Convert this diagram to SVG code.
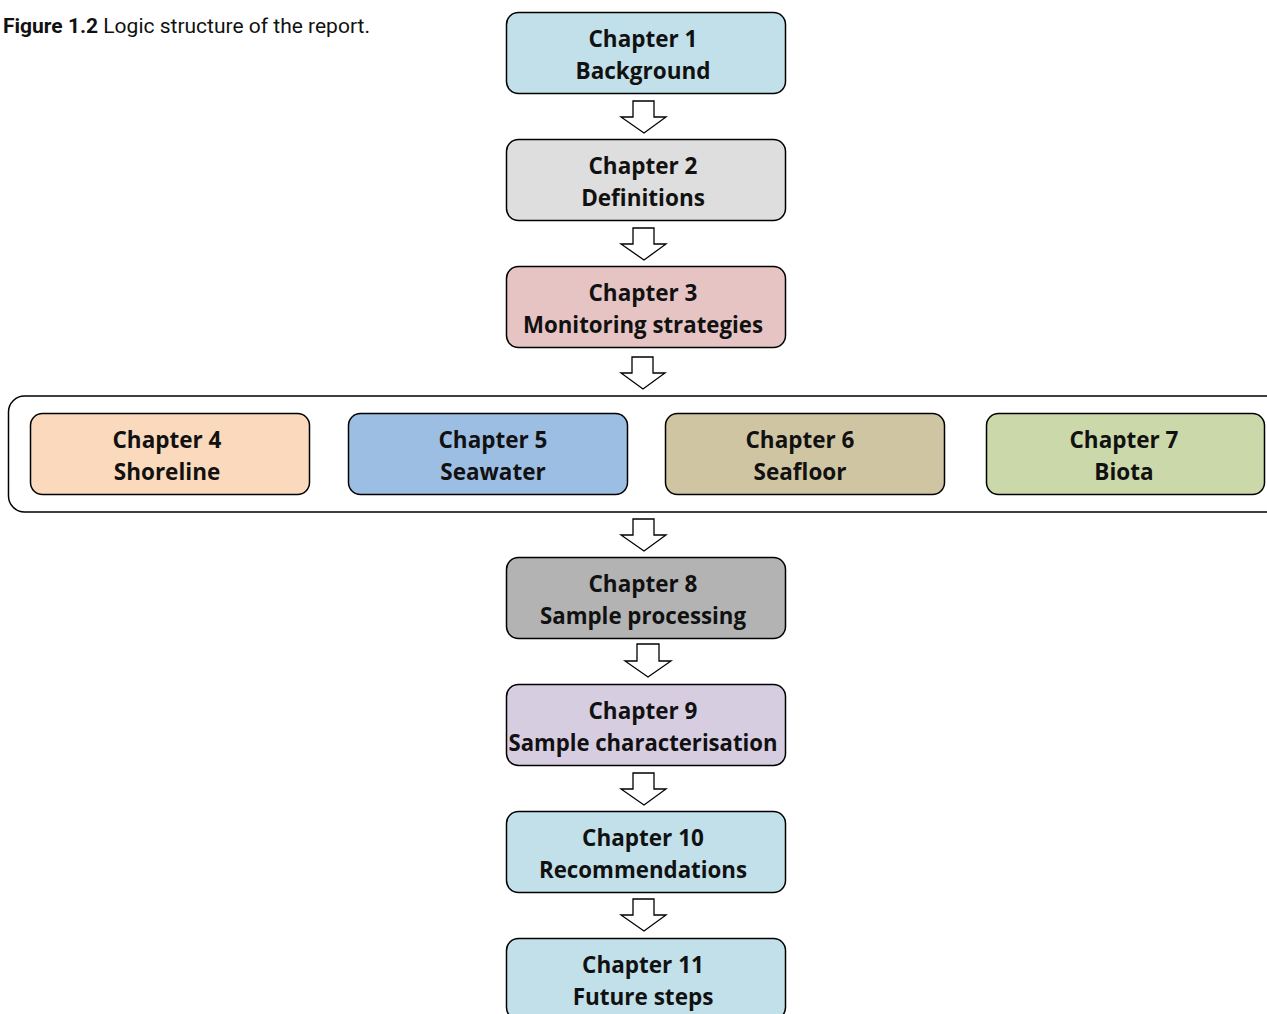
<svg xmlns="http://www.w3.org/2000/svg" width="1267" height="1014" viewBox="0 0 1267 1014">
<style>
.box{stroke:#000;stroke-width:1.5}
.t{font-family:"Open Sans","Noto Sans",sans-serif;font-weight:700;font-size:22.5px;text-anchor:middle;fill:#111}
.arr{fill:#fff;stroke:#000;stroke-width:1.3;stroke-linejoin:miter}
.cap{font-family:Roboto,"Liberation Sans",sans-serif;font-size:21px;fill:#111}
</style>
<rect width="1267" height="1014" fill="#fff"/>
<text class="cap" x="3" y="33"><tspan font-weight="700">Figure 1.2</tspan> Logic structure of the report.</text>
<g id="container"><rect x="8.5" y="396" width="1280" height="116" rx="16" fill="#fff" stroke="#000" stroke-width="1.5"/></g>
<g id="connectors">
<path class="arr" d="M633,101 H654 V117 H666 L644,133 L621,117 H633 Z"/>
<path class="arr" d="M633,228 H654 V244 H666 L644,260 L621,244 H633 Z"/>
<path class="arr" d="M632,357 H653 V373 H665 L643,389 L621,373 H632 Z"/>
<path class="arr" d="M633,519 H654 V535 H666 L644,551 L621,535 H633 Z"/>
<path class="arr" d="M637,644 H659 V661 H671 L648,677 L625,661 H637 Z"/>
<path class="arr" d="M633,773 H654 V789 H666 L644,805 L621,789 H633 Z"/>
<path class="arr" d="M633,899 H654 V915 H666 L644,931 L621,915 H633 Z"/>
</g>
<g id="ch1"><rect class="box" x="506.5" y="12.5" width="279" height="81" rx="12" fill="#c1e0e9"/><text class="t" x="643" y="47">Chapter 1</text><text class="t" x="643" y="79">Background</text></g>
<g id="ch2"><rect class="box" x="506.5" y="139.5" width="279" height="81" rx="12" fill="#dedede"/><text class="t" x="643" y="174">Chapter 2</text><text class="t" x="643" y="206">Definitions</text></g>
<g id="ch3"><rect class="box" x="506.5" y="266.5" width="279" height="81" rx="12" fill="#e6c4c4"/><text class="t" x="643" y="301">Chapter 3</text><text class="t" x="643" y="333" textLength="240" lengthAdjust="spacingAndGlyphs">Monitoring strategies</text></g>
<g id="ch4"><rect class="box" x="30.5" y="413.5" width="279" height="81" rx="12" fill="#fad9bd"/><text class="t" x="167" y="448">Chapter 4</text><text class="t" x="167" y="480">Shoreline</text></g>
<g id="ch5"><rect class="box" x="348.5" y="413.5" width="279" height="81" rx="12" fill="#9dbee3"/><text class="t" x="493" y="448">Chapter 5</text><text class="t" x="493" y="480">Seawater</text></g>
<g id="ch6"><rect class="box" x="665.5" y="413.5" width="279" height="81" rx="12" fill="#cfc5a2"/><text class="t" x="800" y="448">Chapter 6</text><text class="t" x="800" y="480">Seafloor</text></g>
<g id="ch7"><rect class="box" x="986.5" y="413.5" width="278" height="81" rx="12" fill="#cbd8a9"/><text class="t" x="1124" y="448">Chapter 7</text><text class="t" x="1124" y="480">Biota</text></g>
<g id="ch8"><rect class="box" x="506.5" y="557.5" width="279" height="81" rx="12" fill="#b3b3b3"/><text class="t" x="643" y="592">Chapter 8</text><text class="t" x="643" y="624" textLength="206" lengthAdjust="spacingAndGlyphs">Sample processing</text></g>
<g id="ch9"><rect class="box" x="506.5" y="684.5" width="279" height="81" rx="12" fill="#d7cde1"/><text class="t" x="643" y="719">Chapter 9</text><text class="t" x="643" y="751" textLength="269" lengthAdjust="spacingAndGlyphs">Sample characterisation</text></g>
<g id="ch10"><rect class="box" x="506.5" y="811.5" width="279" height="81" rx="12" fill="#c1e0e9"/><text class="t" x="643" y="846">Chapter 10</text><text class="t" x="643" y="878" textLength="208" lengthAdjust="spacingAndGlyphs">Recommendations</text></g>
<g id="ch11"><rect class="box" x="506.5" y="938.5" width="279" height="81" rx="12" fill="#c1e0e9"/><text class="t" x="643" y="973">Chapter 11</text><text class="t" x="643" y="1005">Future steps</text></g>
</svg>
